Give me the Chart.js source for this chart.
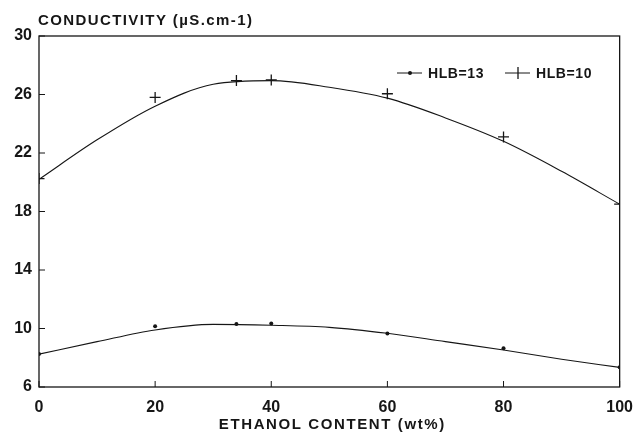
<!DOCTYPE html>
<html>
<head>
<meta charset="utf-8">
<script src="https://cdn.jsdelivr.net/npm/chart.js@4/dist/chart.umd.min.js"></script>
<style>
  html, body { margin: 0; padding: 0; background: #fff; }
  #wrap { width: 644px; height: 438px; }
</style>
</head>
<body>
<div id="wrap"><canvas id="chart" width="644" height="438"></canvas></div>
<script>
// measured points (ethanol wt%)
const xPoints = [0, 20, 34, 40, 60, 80, 100];
const hlb13Points = [8.25, 10.15, 10.3, 10.35, 9.65, 8.65, 7.35];
const hlb10Points = [20.25, 25.8, 26.95, 27.0, 26.05, 23.1, 18.5];

// fitted curves
const curveX = [0, 10, 20, 30, 40, 50, 60, 70, 80, 90, 100];
const hlb13Curve = [8.25, 9.1, 9.9, 10.28, 10.22, 10.08, 9.67, 9.1, 8.53, 7.9, 7.34];
const hlb10Curve = [20.2, 22.9, 25.2, 26.7, 26.95, 26.5, 25.75, 24.4, 22.8, 20.75, 18.5];

const xTicks = [0, 20, 40, 60, 80, 100];
const yTicks = [6, 10, 14, 18, 22, 26, 30];

const seriesNames = ["HLB=13", "HLB=10"];
const yTitle = "CONDUCTIVITY (\u00b5S.cm-1)";
const xTitle = "ETHANOL CONTENT (wt%)";

const ink = "#161616";
const fontFam = "'Liberation Sans', Arial, Helvetica, sans-serif";

const pairs = (xs, ys) => xs.map((x, i) => ({x: x, y: ys[i]}));

function spacing(ctx, px) {
  if ("letterSpacing" in ctx) ctx.letterSpacing = px + "px";
}

// frame, inward ticks, titles and legend
const decorPlugin = {
  id: "decor",
  afterDraw(chart) {
    const ctx = chart.ctx;
    const a = chart.chartArea;
    const sx = chart.scales.x, sy = chart.scales.y;
    ctx.save();
    ctx.strokeStyle = ink;
    ctx.lineWidth = 1.3;
    ctx.strokeRect(a.left, a.top, a.right - a.left, a.bottom - a.top);

    ctx.lineWidth = 1;
    xTicks.forEach(v => {
      const px = sx.getPixelForValue(v);
      ctx.beginPath();
      ctx.moveTo(px, a.bottom);
      ctx.lineTo(px, a.bottom - 6);
      ctx.stroke();
    });
    yTicks.forEach(v => {
      const py = sy.getPixelForValue(v);
      ctx.beginPath();
      ctx.moveTo(a.left, py);
      ctx.lineTo(a.left + 6, py);
      ctx.stroke();
    });

    ctx.fillStyle = ink;
    ctx.textBaseline = "middle";

    // y title sits horizontally above the plot
    ctx.font = "bold 15px " + fontFam;
    spacing(ctx, 1.4);
    ctx.textAlign = "left";
    ctx.fillText(yTitle, a.left - 1, 21);

    // x title
    ctx.font = "bold 15px " + fontFam;
    spacing(ctx, 1.6);
    ctx.textAlign = "center";
    ctx.fillText(xTitle, (a.left + a.right) / 2 + 3, 425);

    // legend
    spacing(ctx, 0.6);
    ctx.textAlign = "left";
    ctx.font = "bold 14px " + fontFam;
    const ly = 73;
    const entries = [
      {x0: 397, label: seriesNames[0], style: "circle"},
      {x0: 505, label: seriesNames[1], style: "cross"}
    ];
    entries.forEach(e => {
      ctx.lineWidth = 1;
      ctx.beginPath();
      ctx.moveTo(e.x0, ly);
      ctx.lineTo(e.x0 + 25, ly);
      ctx.stroke();
      if (e.style === "circle") {
        ctx.beginPath();
        ctx.arc(e.x0 + 13, ly, 2, 0, Math.PI * 2);
        ctx.fill();
      } else {
        ctx.lineWidth = 1.3;
        ctx.beginPath();
        ctx.moveTo(e.x0 + 13, ly - 6);
        ctx.lineTo(e.x0 + 13, ly + 6);
        ctx.stroke();
      }
      ctx.fillText(e.label, e.x0 + 31, ly + 1);
    });
    ctx.restore();
  }
};

new Chart(document.getElementById("chart"), {
  type: "scatter",
  data: {
    datasets: [
      {
        label: seriesNames[0] + " fit",
        data: pairs(curveX, hlb13Curve),
        showLine: true,
        borderColor: ink,
        borderWidth: 1.1,
        pointRadius: 0,
        cubicInterpolationMode: "monotone"
      },
      {
        label: seriesNames[1] + " fit",
        data: pairs(curveX, hlb10Curve),
        showLine: true,
        borderColor: ink,
        borderWidth: 1.1,
        pointRadius: 0,
        cubicInterpolationMode: "monotone"
      },
      {
        label: seriesNames[0],
        data: pairs(xPoints, hlb13Points),
        pointStyle: "circle",
        pointRadius: 2,
        backgroundColor: ink,
        borderColor: ink,
        borderWidth: 0
      },
      {
        label: seriesNames[1],
        data: pairs(xPoints, hlb10Points),
        pointStyle: "cross",
        pointRadius: 5.5,
        borderColor: ink,
        borderWidth: 1.3
      }
    ]
  },
  options: {
    responsive: false,
    animation: false,
    layout: { padding: { top: 36, right: 17, left: 0, bottom: 0 } },
    plugins: {
      legend: { display: false },
      tooltip: { enabled: false }
    },
    scales: {
      x: {
        type: "linear",
        min: 0,
        max: 100,
        afterBuildTicks: s => { s.ticks = xTicks.map(v => ({value: v})); },
        afterFit: s => { s.height = 51; },
        grid: { display: false, drawTicks: false },
        border: { display: false },
        ticks: {
          padding: 11,
          color: ink,
          font: { family: fontFam, size: 16, weight: "bold" }
        }
      },
      y: {
        type: "linear",
        min: 6,
        max: 30,
        afterBuildTicks: s => { s.ticks = yTicks.map(v => ({value: v})); },
        afterFit: s => { s.width = 39; },
        grid: { display: false, drawTicks: false },
        border: { display: false },
        ticks: {
          padding: 7,
          color: ink,
          font: { family: fontFam, size: 16, weight: "bold" }
        }
      }
    }
  },
  plugins: [decorPlugin]
});
</script>
</body>
</html>
